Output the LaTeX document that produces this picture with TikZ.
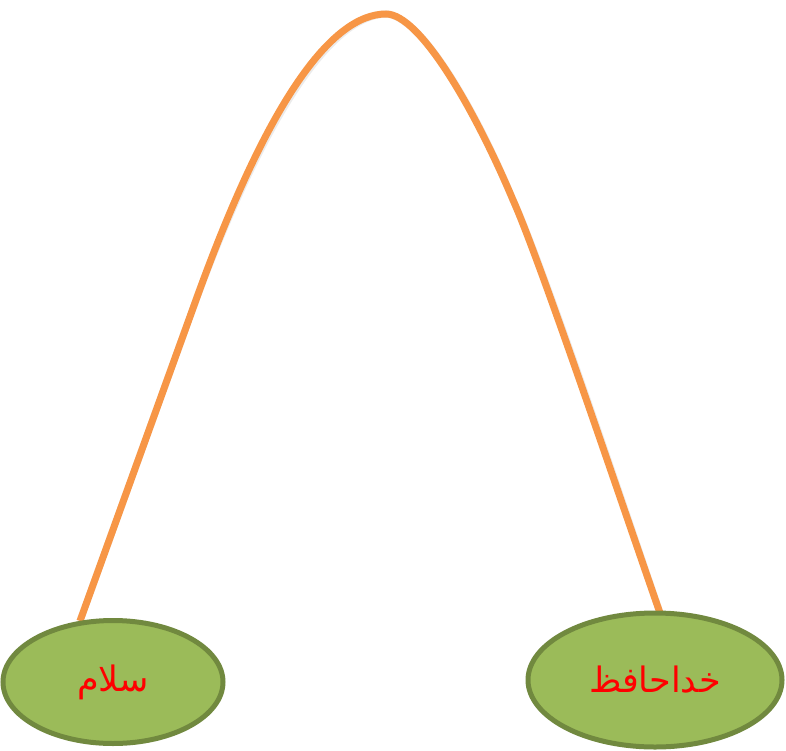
\documentclass[tikz,border=0pt]{standalone}
\usepackage{fontspec}
\usetikzlibrary{shapes.geometric}
\TeXXeTstate=1
\newfontfamily\arabicfont[Script=Arabic]{DejaVu Sans}
\definecolor{arcorange}{HTML}{F79646}
\definecolor{leafgreen}{HTML}{9BBB59}
\definecolor{leafborder}{HTML}{71893F}
\definecolor{wordred}{HTML}{FF0000}
\tikzset{
  wordnode/.style={ellipse, draw=leafborder, fill=leafgreen, line width=5pt, inner sep=0pt,
    text=wordred, font=\arabicfont\fontsize{35}{40}\selectfont},
  arcline/.style={draw=arcorange, line width=7pt},
  arcshadow/.style={draw=black, line width=7pt, opacity=0.08}
}
\begin{document}
\begin{tikzpicture}[x=1pt,y=-1pt]
\useasboundingbox (0,0) rectangle (786,751);
% arc anchors
\coordinate (ls) at (80,621);
\coordinate (lbend) at (196,300);
\coordinate (top) at (386,14);
\coordinate (rbend) at (513,200);
\coordinate (re) at (660,613);
% faint shadow
\draw[arcshadow, shift={(2,2)}] (ls) -- (lbend) .. controls (268,100) and (332,14) .. (top)
  .. controls (420,14) and (475,110) .. (rbend) .. controls (540,260) and (625,513) .. (re);
% arc
\draw[arcline] (ls) -- (lbend) .. controls (268,100) and (332,14) .. (top)
  .. controls (420,14) and (475,110) .. (rbend) .. controls (540,260) and (625,513) .. (re);
% nodes
\node[wordnode, minimum width=220pt, minimum height=123pt] (L) at (113,682) {\beginR سلام\endR};
\node[wordnode, minimum width=254pt, minimum height=134pt] (R) at (655,680) {\beginR خداحافظ\endR};
\end{tikzpicture}
\end{document}
